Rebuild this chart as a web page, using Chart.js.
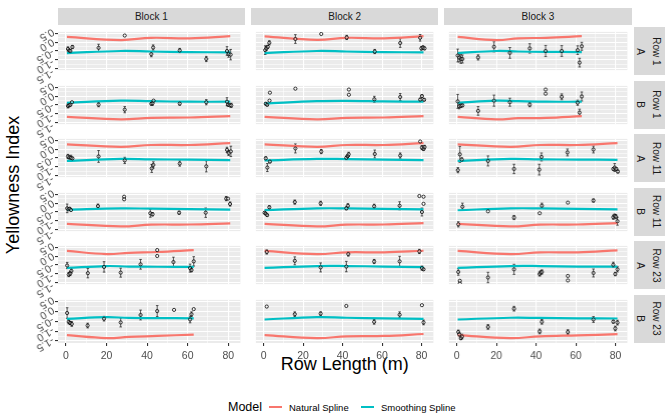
<!DOCTYPE html>
<html>
<head>
<meta charset="utf-8">
<script src="https://cdn.jsdelivr.net/npm/chart.js@4.4.1/dist/chart.umd.min.js"></script>
<style>
  html, body { margin: 0; padding: 0; background: #fff; }
  #fig { position: relative; width: 665px; height: 416px; overflow: hidden; font-family: "Liberation Sans", Arial, sans-serif; }
  .panel { position: absolute; }
  .strip { position: absolute; background: #D9D9D9; color: #1A1A1A; font-size: 10px; display: flex; align-items: center; justify-content: center; }
  .vtext { transform: rotate(90deg); white-space: nowrap; }
  .title { position: absolute; color: #000; font-size: 18px; white-space: nowrap; }
  .legend { position: absolute; top: 406.5px; transform: translateY(-50%); font-size: 9.5px; color: #000; white-space: nowrap; }
  .key { position: absolute; top: 398px; width: 17px; height: 17px; }
  .key span { position: absolute; left: 1.7px; right: 1.7px; top: 7.5px; height: 2.2px; }
</style>
</head>
<body>
<div id="fig">
  <div class="title" style="left:13px;top:185px;transform:translate(-50%,-50%) rotate(-90deg);">Yellowness Index</div>
  <div class="title" style="left:344.7px;top:364px;transform:translate(-50%,-50%);">Row Length (m)</div>
  <div class="legend" style="left:228px;font-size:12.5px;">Model</div>
  <div class="key" style="left:267px;"><span style="background:#F8766D"></span></div>
  <div class="legend" style="left:289px;">Natural Spline</div>
  <div class="key" style="left:359px;"><span style="background:#00BFC4"></span></div>
  <div class="legend" style="left:381px;">Smoothing Spline</div>
</div>
<script>
// facet labels and axis breaks
const blocks = ['Block 1', 'Block 2', 'Block 3'];
const rowLabels = ['Row 1', 'Row 1', 'Row 11', 'Row 11', 'Row 23', 'Row 23'];
const sideLabels = ['A', 'B', 'A', 'B', 'A', 'B'];
const xTicks = [0, 20, 40, 60, 80];
const xMinor = [10, 30, 50, 70];
const yTicks = [0.5, 0, -0.5, -1, -1.5];
const yMinor = [0.25, -0.25, -0.75, -1.25];

// x positions where the spline curves were read
const knotsFull = [0.5, 27, 42, 61, 81];
const knotsShort = [0.5, 20, 31, 45, 63];

// observed points: [row length, yellowness, error half-width]
const pts_b1r1A = [[1.0,-0.38,0.12],[1.6,-0.47,0.08],[2.2,-0.50,0.08],[3.2,-0.27,0.09],[16.1,-0.32,0.21],[29,0.39,0],[42.1,-0.68,0.15],[43,-0.30,0.15],[56.1,-0.47,0.12],[69.2,-0.96,0.15],[79.4,-0.50,0.25],[80.2,-0.68,0.18],[81.2,-0.71,0.3]];
const nat_b1r1A = [0.31, 0.13, 0.26, 0.23, 0.355];
const smo_b1r1A = [-0.62, -0.50, -0.53, -0.56, -0.58];

const pts_b2r1A = [[0.8,-0.45,0.25],[1.4,-0.35,0.12],[2.1,-0.26,0.08],[2.9,-0.03,0.12],[16.1,0.19,0.25],[29.2,0.48,0],[42.1,0.28,0.12],[56.3,-0.53,0.12],[69.2,-0.04,0.25],[79.3,0.26,0.19],[79.9,-0.35,0.1],[80.7,-0.30,0.1],[81.5,-0.35,0.08]];
const nat_b2r1A = [0.34, 0.14, 0.26, 0.23, 0.355];
const smo_b2r1A = [-0.62, -0.50, -0.53, -0.56, -0.58];

const pts_b3r1A = [[0.5,-0.76,0.37],[1.3,-0.88,0.25],[2.1,-0.96,0.25],[2.9,-0.96,0.23],[10.8,-0.87,0.15],[18.8,-0.26,0.29],[26.8,-0.61,0.31],[36.8,-0.35,0.27],[44.8,-0.50,0.32],[52.9,-0.50,0.31],[60.9,-0.45,0.25],[61.9,-1.17,0.25],[63,-0.23,0.23]];
const nat_b3r1A = [0.31, 0.13, 0.23, 0.26, 0.355];
const smo_b3r1A = [-0.62, -0.50, -0.53, -0.55, -0.56];

const pts_b1r1B = [[1.0,-0.55,0.12],[1.6,-0.52,0.08],[2.2,-0.49,0.06],[3.0,-0.34,0],[16.1,-0.48,0.12],[29,-0.77,0.18],[42.1,-0.43,0.08],[42.7,-0.40,0.12],[43.2,-0.25,0],[56.1,-0.42,0.09],[69.2,-0.34,0.15],[79.4,-0.31,0.23],[79.9,-0.48,0.08],[80.7,-0.52,0.06],[81.5,-0.52,0.12]];
const nat_b1r1B = [-1.18, -1.33, -1.24, -1.22, -1.14];
const smo_b1r1B = [-0.37, -0.25, -0.28, -0.31, -0.31];

const pts_b2r1B = [[1.1,-0.43,0.06],[1.8,-0.49,0.06],[3.2,0.21,0],[3.0,-0.25,0],[16.1,0.44,0],[43.2,0.39,0],[43.2,0.09,0],[56.1,-0.17,0.17],[69.2,-0.04,0.2],[79.3,-0.19,0.08],[80.2,0.01,0.08],[81.3,-0.20,0.06]];
const nat_b2r1B = [-1.18, -1.33, -1.24, -1.22, -1.14];
const smo_b2r1B = [-0.42, -0.28, -0.26, -0.29, -0.31];

const pts_b3r1B = [[0.5,-0.29,0.4],[1.3,-0.57,0.15],[2.1,-0.54,0.1],[2.9,-0.52,0.08],[10.8,-0.84,0.25],[18.8,-0.25,0.32],[26.8,-0.34,0.23],[36.8,-0.48,0.12],[44.8,0.39,0],[44.8,0.15,0],[52.9,-0.03,0.17],[60.9,-0.37,0.15],[61.9,-0.94,0.2],[63,-0.01,0.26]];
const nat_b3r1B = [-1.18, -1.33, -1.26, -1.24, -1.14];
const smo_b3r1B = [-0.37, -0.25, -0.28, -0.31, -0.31];

const pts_b1r11A = [[1.0,-0.41,0.12],[1.7,-0.47,0.08],[2.5,-0.49,0.15],[3.2,-0.52,0.06],[16.1,-0.41,0.34],[29,-0.64,0.18],[42.3,-1.10,0.23],[43.1,-0.90,0.18],[56.1,-0.82,0.15],[69.2,-0.98,0.32],[79.4,-0.03,0.15],[80.2,-0.21,0.15],[81.3,-0.12,0.3]];
const nat_b1r11A = [0.29, 0.14, 0.25, 0.25, 0.36];
const smo_b1r11A = [-0.67, -0.55, -0.58, -0.59, -0.62];

const pts_b2r11A = [[1.1,-0.52,0.09],[1.9,-1.05,0.23],[3.2,-0.71,0.06],[16.1,0.05,0.26],[29.2,-0.13,0.12],[41.9,-0.49,0.1],[42.6,-0.39,0.08],[43.1,-0.29,0.12],[56.3,-0.27,0.23],[69.2,-0.36,0.15],[79.3,0.45,0],[80.2,0.10,0.12],[81.0,0.02,0.08],[81.5,0.13,0.1]];
const nat_b2r11A = [0.29, 0.14, 0.25, 0.25, 0.36];
const smo_b2r11A = [-0.64, -0.55, -0.56, -0.59, -0.62];

const pts_b3r11A = [[0.6,-1.20,0.15],[1.6,-0.29,0.46],[2.6,-0.59,0.1],[15.8,-0.67,0.29],[28.9,-1.13,0.27],[41.6,-1.17,0.31],[42.7,-0.44,0.23],[55.8,-0.18,0.2],[68.9,-0.01,0.2],[78.9,-1.13,0.08],[79.6,-1.05,0.23],[80.4,-1.13,0.08],[81.2,-1.28,0.08]];
const nat_b3r11A = [0.29, 0.14, 0.25, 0.25, 0.36];
const smo_b3r11A = [-0.67, -0.55, -0.58, -0.59, -0.61];

const pts_b1r11B = [[0.6,-0.29,0.25],[1.3,-0.34,0.08],[1.9,-0.31,0.06],[2.5,-0.39,0],[15.8,-0.16,0.12],[28.7,0.38,0],[28.7,0.23,0],[41.6,-0.57,0.23],[42.7,-0.63,0.1],[55.8,-0.54,0.09],[68.9,-0.54,0.27],[79,0.27,0.12],[79.9,0.27,0],[80.9,-0.04,0.12]];
const nat_b1r11B = [-1.18, -1.33, -1.23, -1.22, -1.15];
const smo_b1r11B = [-0.37, -0.29, -0.31, -0.34, -0.36];

const pts_b2r11B = [[0.5,-0.54,0.06],[1.1,-0.60,0.06],[1.8,-0.68,0.06],[2.9,-0.23,0.09],[15.8,0.07,0.12],[28.9,0.0,0.12],[41.9,-0.29,0.08],[42.7,-0.14,0.12],[56,-0.17,0.12],[68.9,-0.14,0.23],[78.9,0.42,0],[81,0.38,0],[81,-0.03,0],[80.2,-0.5,0.23]];
const nat_b2r11B = [-1.18, -1.33, -1.23, -1.22, -1.14];
const smo_b2r11B = [-0.39, -0.29, -0.29, -0.32, -0.35];

const pts_b3r11B = [[0.8,-1.21,0.15],[2.9,-0.20,0.21],[15.8,-0.46,0],[28.9,-0.82,0.12],[41.8,-0.57,0],[42.9,-0.14,0.15],[56,0.04,0],[68.9,0.16,0.09],[78.9,-0.80,0.12],[79.6,-0.72,0.1],[80.2,-0.77,0.12],[81,-1.03,0.23]];
const nat_b3r11B = [-1.18, -1.33, -1.23, -1.22, -1.14];
const smo_b3r11B = [-0.40, -0.29, -0.29, -0.32, -0.35];

const pts_b1r23A = [[0.6,-0.53,0.18],[1.4,-1.05,0.12],[2.1,-0.99,0.12],[2.7,-0.84,0.12],[10.8,-0.97,0.27],[18.8,-0.61,0.3],[27,-0.94,0.26],[36.8,-0.46,0.28],[45,0.36,0],[45,0.02,0],[53,-0.33,0.28],[61.2,-0.68,0.23],[61.9,-0.79,0.1],[63,-0.29,0.27]];
const nat_b1r23A = [0.31, 0.13, 0.2, 0.25, 0.36];
const smo_b1r23A = [-0.67, -0.56, -0.59, -0.60, -0.61];

const pts_b2r23A = [[1.6,0.25,0.12],[15.8,-0.26,0.23],[28.9,-0.64,0.26],[41.9,-0.59,0.3],[42.9,0.13,0.12],[56,-0.30,0.12],[68.9,-0.29,0.29],[78.9,0.28,0.12],[80.2,-0.68,0.12],[81,-0.75,0.06]];
const nat_b2r23A = [0.31, 0.13, 0.23, 0.23, 0.32];
const smo_b2r23A = [-0.67, -0.56, -0.56, -0.59, -0.62];

const pts_b3r23A = [[0.8,-0.90,0.19],[1.6,-1.56,0],[1.6,-1.41,0],[15.8,-1.22,0.3],[28.9,-0.75,0.29],[41.8,-1.02,0.12],[42.3,-0.94,0.1],[42.9,-0.90,0.12],[56,-1.39,0],[56,-1.13,0],[68.9,-0.96,0.23],[78.9,-0.49,0.15],[79.9,-1.02,0.1],[81,-0.75,0.15]];
const nat_b3r23A = [0.31, 0.13, 0.23, 0.23, 0.34];
const smo_b3r23A = [-0.67, -0.56, -0.56, -0.59, -0.59];

const pts_b1r23B = [[0.6,-0.07,0.27],[1.4,-0.52,0.1],[2.1,-0.58,0.08],[2.9,-0.63,0.12],[10.7,-0.71,0.12],[18.8,-0.36,0.12],[27,-0.55,0.23],[36.8,-0.17,0.25],[45,0.03,0.28],[53.3,0.09,0],[61.2,-0.40,0.17],[61.9,-0.13,0.12],[63,0.13,0]];
const nat_b1r23B = [-1.2, -1.35, -1.29, -1.24, -1.17];
const smo_b1r23B = [-0.37, -0.28, -0.32, -0.33, -0.34];

const pts_b2r23B = [[1.6,0.26,0],[15.8,-0.13,0.12],[28.9,-0.10,0.09],[41.9,0.29,0],[56,-0.52,0.12],[68.9,-0.16,0.15],[80.2,0.33,0],[81,-0.55,0.12]];
const nat_b2r23B = [-1.2, -1.35, -1.26, -1.24, -1.14];
const smo_b2r23B = [-0.40, -0.28, -0.31, -0.34, -0.37];

const pts_b3r23B = [[0.8,-1.04,0.1],[1.3,-1.16,0.08],[2.1,-1.35,0.08],[2.7,-1.27,0.12],[15.8,-0.78,0.12],[28.9,0.15,0.12],[41.8,-1.01,0.12],[42.9,-0.52,0.12],[56,-1.04,0.12],[68.9,-0.40,0.15],[78.9,-0.51,0.08],[79.9,-0.86,0.12],[81,-0.56,0.12]];
const nat_b3r23B = [-1.2, -1.35, -1.26, -1.21, -1.15];
const smo_b3r23B = [-0.40, -0.31, -0.32, -0.34, -0.35];

// facet grid, row by row (Block 1..3 across)
const panels = [
  [pts_b1r1A, nat_b1r1A, smo_b1r1A, knotsFull], [pts_b2r1A, nat_b2r1A, smo_b2r1A, knotsFull], [pts_b3r1A, nat_b3r1A, smo_b3r1A, knotsShort],
  [pts_b1r1B, nat_b1r1B, smo_b1r1B, knotsFull], [pts_b2r1B, nat_b2r1B, smo_b2r1B, knotsFull], [pts_b3r1B, nat_b3r1B, smo_b3r1B, knotsShort],
  [pts_b1r11A, nat_b1r11A, smo_b1r11A, knotsFull], [pts_b2r11A, nat_b2r11A, smo_b2r11A, knotsFull], [pts_b3r11A, nat_b3r11A, smo_b3r11A, knotsFull],
  [pts_b1r11B, nat_b1r11B, smo_b1r11B, knotsFull], [pts_b2r11B, nat_b2r11B, smo_b2r11B, knotsFull], [pts_b3r11B, nat_b3r11B, smo_b3r11B, knotsFull],
  [pts_b1r23A, nat_b1r23A, smo_b1r23A, knotsShort], [pts_b2r23A, nat_b2r23A, smo_b2r23A, knotsFull], [pts_b3r23A, nat_b3r23A, smo_b3r23A, knotsFull],
  [pts_b1r23B, nat_b1r23B, smo_b1r23B, knotsShort], [pts_b2r23B, nat_b2r23B, smo_b2r23B, knotsFull], [pts_b3r23B, nat_b3r23B, smo_b3r23B, knotsFull]
];

// layout
const panelLeft = [57.7, 251, 444.3];
const panelW = 187.3, panelH = 48, panelTop = 27, panelPitch = 53.5;
const yAxisW = 40, xAxisH = 24;
const yMin = -1.6, yMax = 0.6;
const fig = document.getElementById('fig');
const tickFont = { family: '"Liberation Sans", Arial, sans-serif', size: 10.5 };

// panel background
const panelBg = {
  id: 'panelBg',
  beforeDraw(chart) {
    const a = chart.chartArea, ctx = chart.ctx;
    ctx.save();
    ctx.fillStyle = '#EBEBEB';
    ctx.fillRect(a.left, a.top, a.right - a.left, a.bottom - a.top);
    ctx.restore();
  }
};

// vertical error bars under the points
const errorBars = {
  id: 'errorBars',
  beforeDatasetsDraw(chart) {
    const xs = chart.scales.x, ys = chart.scales.y, ctx = chart.ctx, a = chart.chartArea;
    const pts = chart.data.datasets[0].raw;
    ctx.save();
    ctx.beginPath();
    ctx.rect(a.left, a.top, a.right - a.left, a.bottom - a.top);
    ctx.clip();
    ctx.strokeStyle = 'rgba(20,20,20,0.85)';
    ctx.lineWidth = 0.8;
    pts.forEach(p => {
      if (!p[2]) return;
      const x = xs.getPixelForValue(p[0]);
      const y1 = ys.getPixelForValue(p[1] - p[2]);
      const y2 = ys.getPixelForValue(p[1] + p[2]);
      ctx.beginPath();
      ctx.moveTo(x, y1); ctx.lineTo(x, y2);
      ctx.moveTo(x - 1.3, y1); ctx.lineTo(x + 1.3, y1);
      ctx.moveTo(x - 1.3, y2); ctx.lineTo(x + 1.3, y2);
      ctx.stroke();
    });
    ctx.restore();
  }
};

const isMajorX = v => xTicks.includes(v);
const isMajorY = v => yTicks.some(t => Math.abs(t - v) < 1e-9);

function addBox(left, top, width, height) {
  const div = document.createElement('div');
  div.className = 'panel';
  div.style.left = left + 'px';
  div.style.top = top + 'px';
  div.style.width = width + 'px';
  div.style.height = height + 'px';
  const canvas = document.createElement('canvas');
  div.appendChild(canvas);
  fig.appendChild(div);
  return canvas;
}

panels.forEach((p, i) => {
  const row = Math.floor(i / 3), col = i % 3;
  const [pts, nat, smo, knots] = p;
  const showX = row === 5;
  const axW = col === 0 ? yAxisW : 0;
  const axH = showX ? xAxisH : 0;
  const canvas = addBox(panelLeft[col] - axW, panelTop + row * panelPitch, panelW + axW, panelH + axH);

  new Chart(canvas, {
    type: 'scatter',
    data: {
      datasets: [
        {
          label: 'Observed',
          raw: pts,
          data: pts.map(d => ({ x: d[0], y: d[1] })),
          pointStyle: 'circle',
          pointRadius: 1.6,
          borderWidth: 0.9,
          borderColor: 'rgba(0,0,0,0.85)',
          backgroundColor: 'rgba(255,255,255,0.35)',
          order: 0
        },
        {
          label: 'Smoothing Spline',
          type: 'line',
          data: knots.map((x, k) => ({ x: x, y: smo[k] })),
          borderColor: '#00BFC4',
          borderWidth: 2.2,
          pointRadius: 0,
          tension: 0.4,
          order: 1
        },
        {
          label: 'Natural Spline',
          type: 'line',
          data: knots.map((x, k) => ({ x: x, y: nat[k] })),
          borderColor: '#F8766D',
          borderWidth: 2.2,
          pointRadius: 0,
          tension: 0.4,
          order: 2
        }
      ]
    },
    options: {
      responsive: true,
      maintainAspectRatio: false,
      animation: false,
      events: [],
      layout: { padding: 0 },
      plugins: { legend: { display: false }, tooltip: { enabled: false } },
      scales: {
        x: {
          type: 'linear',
          min: -3.9,
          max: 86,
          afterBuildTicks: s => { s.ticks = xTicks.concat(xMinor).sort((a, b) => a - b).map(v => ({ value: v })); },
          afterFit: s => { s.height = axH; },
          border: { display: false },
          grid: {
            color: '#FFFFFF',
            lineWidth: c => isMajorX(c.tick.value) ? 1.1 : 0.55,
            drawTicks: showX,
            tickLength: 3,
            tickColor: c => isMajorX(c.tick.value) ? '#333333' : 'rgba(0,0,0,0)'
          },
          ticks: {
            display: showX,
            autoSkip: false,
            maxRotation: 0,
            padding: 4,
            color: '#4D4D4D',
            font: tickFont,
            callback: v => isMajorX(v) ? String(v) : ''
          }
        },
        y: {
          type: 'linear',
          min: yMin,
          max: yMax,
          afterBuildTicks: s => { s.ticks = yTicks.concat(yMinor).sort((a, b) => a - b).map(v => ({ value: v })); },
          afterFit: s => { s.width = axW; },
          border: { display: false },
          grid: {
            color: '#FFFFFF',
            lineWidth: c => isMajorY(c.tick.value) ? 1.1 : 0.55,
            drawTicks: col === 0,
            tickLength: 3,
            tickColor: c => isMajorY(c.tick.value) ? '#333333' : 'rgba(0,0,0,0)'
          },
          ticks: { display: false }
        }
      }
    },
    plugins: [panelBg, errorBars]
  });
});

// slanted y tick labels of each facet row: a label-only chart left of the panel,
// its scale stretched above and below so it lines up and the labels are not cut
const extTop = 6, extBottom = 14;
const unitPx = panelH / (yMax - yMin);
rowLabels.forEach((r, row) => {
  const canvas = addBox(0, panelTop + row * panelPitch - extTop, panelLeft[0] - 1, panelH + extTop + extBottom);
  new Chart(canvas, {
    type: 'scatter',
    data: { datasets: [] },
    options: {
      responsive: true,
      maintainAspectRatio: false,
      animation: false,
      events: [],
      layout: { padding: 0 },
      plugins: { legend: { display: false }, tooltip: { enabled: false } },
      scales: {
        x: { type: 'linear', display: false, min: 0, max: 1 },
        y: {
          type: 'linear',
          min: yMin - extBottom / unitPx,
          max: yMax + extTop / unitPx,
          afterBuildTicks: s => { s.ticks = yTicks.map(v => ({ value: v })); },
          afterFit: s => { s.width = panelLeft[0] - 1.5; },
          border: { display: false },
          grid: { display: false },
          ticks: {
            autoSkip: false,
            mirror: true,
            crossAlign: 'near',
            padding: -4,
            minRotation: 210,
            maxRotation: 210,
            color: '#4D4D4D',
            font: tickFont,
            callback: v => v.toFixed(1)
          }
        }
      }
    }
  });
});

// column strips
blocks.forEach((b, c) => {
  const s = document.createElement('div');
  s.className = 'strip';
  s.style.left = panelLeft[c] + 'px';
  s.style.top = '8px';
  s.style.width = panelW + 'px';
  s.style.height = '17px';
  s.textContent = b;
  fig.appendChild(s);
});

// row strips: side letter, then row name
rowLabels.forEach((r, k) => {
  const top = panelTop + k * panelPitch;
  [[sideLabels[k], 633.5, 14.5], [r, 648, 17]].forEach(([txt, left, w]) => {
    const s = document.createElement('div');
    s.className = 'strip';
    s.style.left = left + 'px';
    s.style.top = top + 'px';
    s.style.width = w + 'px';
    s.style.height = panelH + 'px';
    const t = document.createElement('div');
    t.className = 'vtext';
    t.textContent = txt;
    s.appendChild(t);
    fig.appendChild(s);
  });
});
</script>
</body>
</html>
